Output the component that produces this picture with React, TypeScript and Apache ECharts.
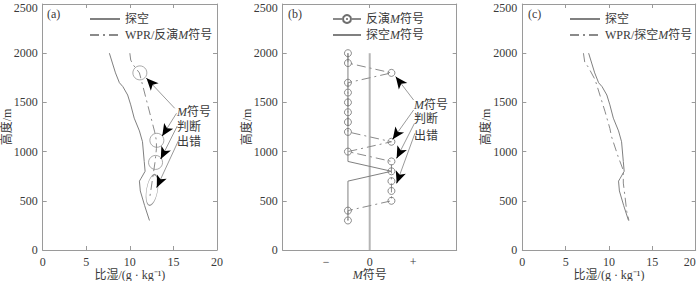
import React, { useEffect, useRef } from 'react';
import * as echarts from 'echarts';

// Panel (a)/(c): sounding specific humidity profile
const soundingHeights = [2000, 1900, 1800, 1700, 1660, 1575, 1475, 1340, 1210, 1100, 900, 800, 730, 700, 600, 450, 300];
const soundingQ = [7.65, 8.0, 8.35, 8.8, 9.2, 9.75, 10.1, 10.5, 11.1, 11.45, 11.65, 11.75, 11.3, 11.1, 11.2, 11.7, 12.25];

// Panel (a): WPR / inverted M sign
const wprInvHeights = [2000, 1930, 1880, 1800, 1200, 1110, 1030, 900, 750, 600, 545];
const wprInvQ = [10.0, 10.1, 10.4, 11.1, 12.85, 13.05, 13.05, 12.9, 12.65, 12.4, 12.3];

// Panel (a): marked wrong judgements (circles and ellipse)
const markQ = [11.15, 13.1, 12.95];
const markH = [1800, 1115, 890];
const ellipseQ = [12.55];
const ellipseH = [610];

// Panel (c): WPR / sounding M sign
const wprSndHeights = [2000, 1910, 1860, 1730, 1575, 1405, 1235, 1150, 950, 810, 680, 540, 390, 300];
const wprSndQ = [7.05, 7.2, 7.6, 8.4, 8.95, 9.55, 10.1, 10.3, 11.05, 11.65, 11.65, 11.85, 12.05, 12.3];

// Panel (b): M sign
const mHeights = [2000, 1900, 1800, 1700, 1600, 1500, 1400, 1300, 1200, 1100, 1000, 900, 800, 700, 600, 500, 400, 300];
const invertedM = [-0.5, -0.5, 0.5, -0.5, -0.5, -0.5, -0.5, -0.5, -0.5, 0.5, -0.5, 0.5, 0.5, 0.5, 0.5, 0.5, -0.5, -0.5];
const soundingMHeights = [2000, 900, 800, 700, 300];
const soundingMValues = [-0.5, -0.5, 0.5, -0.5, -0.5];
const zeroLineHeights = [2000, 0];
const mTickValues = [-1, 0, 1];
const mTickLabels = ['−', '0', '+'];

// Arrows (start -> tip), data coordinates
const arrowsAStart = [[15.15, 1440], [15.35, 1389], [15.44, 1260], [15.61, 1118]];
const arrowsATip = [[11.91, 1745], [13.72, 1159], [13.55, 925], [13.09, 635]];
const arrowsBStart = [[1.01, 1524], [1.01, 1423], [1.03, 1288], [1.04, 1186]];
const arrowsBTip = [[0.6, 1761], [0.53, 1125], [0.62, 932], [0.62, 678]];

const annotationLines = ['{i|M}符号', '判断', '出错'];

const FONT = "'Liberation Serif', 'Noto Sans CJK SC', serif";
const TEXT = '#3a3a3a';
const LINE = '#808080';
const FRAME = '#9a9a9a';
const DASHDOT = [9, 4, 2, 4];

const pairs = (xs: number[], ys: number[]) => xs.map((x, i) => [x, ys[i]]);

function arrowMarkLine(starts: number[][], tips: number[][]) {
  const data: any[] = [];
  starts.forEach((s, i) => {
    const t = tips[i];
    data.push([
      { coord: s, symbol: 'none', lineStyle: { color: '#808080', width: 0.8, type: 'solid' } },
      { coord: t, symbol: 'none' },
    ]);
  });
  starts.forEach((s, i) => {
    const t = tips[i];
    const k = 0.1;
    const mid = [t[0] + (s[0] - t[0]) * k, t[1] + (s[1] - t[1]) * k];
    data.push([
      { coord: mid, symbol: 'none', lineStyle: { color: '#000', width: 0.8, type: 'solid' } },
      { coord: t, symbol: 'arrow', symbolSize: [8, 12] },
    ]);
  });
  return {
    silent: true,
    animation: false,
    label: { show: false },
    emphasis: { disabled: true },
    symbol: ['none', 'arrow'],
    data,
  };
}

const richStyle = { i: { fontStyle: 'italic', fontFamily: FONT, fontSize: 12, color: TEXT } };

function makeAxes(gridIndex: number, isM: boolean, alignLastRight = false) {
  const xBase: any = {
    type: 'value',
    gridIndex,
    min: isM ? -2 : 0,
    max: isM ? 2 : 20,
    interval: isM ? 1 : 5,
    axisLine: { show: true, onZero: false, lineStyle: { color: FRAME, width: 1 } },
    splitLine: { show: false },
    axisTick: { show: true, inside: true, length: 4, lineStyle: { color: FRAME } },
  };
  const yBase: any = {
    type: 'value',
    gridIndex,
    min: 0,
    max: 2500,
    interval: 500,
    axisLine: { show: true, onZero: false, lineStyle: { color: FRAME, width: 1 } },
    splitLine: { show: false },
    axisTick: { show: true, inside: true, length: 4, lineStyle: { color: FRAME } },
  };
  const xBottom: any = {
    ...xBase,
    position: 'bottom',
    name: isM ? '{i|M}符号' : '比湿/(g · kg⁻¹)',
    nameLocation: 'middle',
    nameGap: 19,
    nameMoveOverlap: false,
    nameTextStyle: {
      fontFamily: FONT,
      fontSize: 12,
      lineHeight: 12,
      color: TEXT,
      rich: { i: { ...richStyle.i, lineHeight: 12 } },
    },
    axisLabel: {
      show: true,
      fontFamily: FONT,
      fontSize: 12,
      color: TEXT,
      margin: 6,
      formatter: (v: number) => String(v),
    },
  };
  if (alignLastRight) xBottom.axisLabel.alignMaxLabel = 'right';
  const xTop: any = { ...xBase, position: 'top', axisLabel: { show: false } };
  if (isM) {
    xBottom.axisLabel.customValues = mTickValues;
    xBottom.axisLabel.formatter = (v: number) => mTickLabels[mTickValues.indexOf(v)] ?? '';
    xBottom.axisTick = { ...xBase.axisTick, customValues: [0] };
    xTop.axisTick = { ...xBase.axisTick, customValues: [0] };
  }
  const yLeft: any = {
    ...yBase,
    position: 'left',
    name: '高度/m',
    nameLocation: 'middle',
    nameGap: 30,
    nameMoveOverlap: false,
    nameTextStyle: { fontFamily: FONT, fontSize: 12, lineHeight: 12, color: TEXT },
    axisLabel: {
      show: true,
      fontFamily: FONT,
      fontSize: 12,
      lineHeight: 8,
      color: TEXT,
      margin: 5,
      verticalAlignMaxLabel: 'top',
      formatter: (v: number) => String(v),
    },
  };
  const yRight: any = { ...yBase, position: 'right', axisLabel: { show: false } };
  return { x: [xBottom, xTop], y: [yLeft, yRight] };
}

const noSymbol = { opacity: 0, color: 'rgba(0,0,0,0)', borderWidth: 0 };

export default function App() {
  const ref = useRef<HTMLDivElement>(null);
  useEffect(() => {
    if (!ref.current) return;
    const chart = echarts.init(ref.current, undefined, { renderer: 'svg' });
    const axA = makeAxes(0, false);
    const axB = makeAxes(1, true);
    const axC = makeAxes(2, false, true);

    const legendCommon = {
      orient: 'vertical',
      itemWidth: 30,
      itemHeight: 10,
      itemGap: 4,
      textStyle: { fontFamily: FONT, fontSize: 12, color: TEXT, rich: richStyle },
      formatter: (name: string) => name.replace('M', '{i|M}'),
      selectedMode: false,
    };

    const annText = (left: number, tops: number[]) =>
      annotationLines.map((t, i) => ({
        type: 'text',
        left,
        top: tops[i],
        silent: true,
        style: {
          text: t,
          font: `12px ${FONT}`,
          fill: TEXT,
          rich: richStyle,
        },
      }));

    const gridCommon = { top: 4, height: 246, containLabel: false, outerBoundsMode: 'none' };

    const option: any = {
      animation: false,
      backgroundColor: '#fff',
      grid: [
        { ...gridCommon, left: 42.7, width: 174.3 },
        { ...gridCommon, left: 282.7, width: 174 },
        { ...gridCommon, left: 522.3, width: 173.4 },
      ],
      xAxis: [...axA.x, ...axB.x, ...axC.x],
      yAxis: [...axA.y, ...axB.y, ...axC.y],
      legend: [
        {
          ...legendCommon,
          left: 84,
          top: 8,
          data: [
            { name: '探空', itemStyle: noSymbol },
            { name: 'WPR/反演M符号', itemStyle: noSymbol },
          ],
        },
        {
          ...legendCommon,
          left: 327,
          top: 8,
          itemWidth: 28,
          data: [
            { name: '反演M符号' },
            { name: '探空M符号', itemStyle: noSymbol },
          ],
        },
        {
          ...legendCommon,
          left: 564,
          top: 8,
          data: [
            { name: '探空', itemStyle: noSymbol },
            { name: 'WPR/探空M符号', itemStyle: noSymbol },
          ],
        },
      ],
      graphic: [
        { type: 'text', left: 47, top: 8, silent: true, style: { text: '(a)', font: `12px ${FONT}`, fill: TEXT } },
        { type: 'text', left: 288, top: 8, silent: true, style: { text: '(b)', font: `12px ${FONT}`, fill: TEXT } },
        { type: 'text', left: 528, top: 8, silent: true, style: { text: '(c)', font: `12px ${FONT}`, fill: TEXT } },
        ...annText(177, [106, 121, 136]),
        ...annText(414, [99, 113, 130]),
      ],
      series: [
        {
          name: '探空',
          type: 'line',
          xAxisIndex: 0,
          yAxisIndex: 0,
          data: pairs(soundingQ, soundingHeights),
          symbol: 'none',
          lineStyle: { color: LINE, width: 1, type: 'solid' },
          itemStyle: { color: LINE },
        },
        {
          name: 'WPR/反演M符号',
          type: 'line',
          xAxisIndex: 0,
          yAxisIndex: 0,
          data: pairs(wprInvQ, wprInvHeights),
          symbol: 'none',
          lineStyle: { color: '#8a8a8a', width: 1, type: DASHDOT },
          itemStyle: { color: '#8a8a8a' },
        },
        {
          name: 'marks',
          type: 'scatter',
          xAxisIndex: 0,
          yAxisIndex: 0,
          data: pairs(markQ, markH),
          symbol: 'circle',
          symbolSize: 14,
          itemStyle: { color: 'rgba(0,0,0,0)', borderColor: '#777', borderWidth: 0.8 },
          silent: true,
          markLine: arrowMarkLine(arrowsAStart, arrowsATip),
        },
        {
          name: 'ellipse',
          type: 'scatter',
          xAxisIndex: 0,
          yAxisIndex: 0,
          data: pairs(ellipseQ, ellipseH),
          symbol: 'circle',
          symbolSize: [11, 31],
          symbolRotate: -10,
          itemStyle: { color: 'rgba(0,0,0,0)', borderColor: '#777', borderWidth: 0.8 },
          silent: true,
        },
        {
          name: 'zero',
          type: 'line',
          xAxisIndex: 2,
          yAxisIndex: 2,
          data: zeroLineHeights.map((h) => [0, h]),
          symbol: 'none',
          lineStyle: { color: '#b5b5b5', width: 2 },
          silent: true,
        },
        {
          name: '探空M符号',
          type: 'line',
          xAxisIndex: 2,
          yAxisIndex: 2,
          data: pairs(soundingMValues, soundingMHeights),
          symbol: 'none',
          lineStyle: { color: LINE, width: 1, type: 'solid' },
          itemStyle: { color: LINE },
          z: 3,
        },
        {
          name: '反演M符号',
          type: 'line',
          xAxisIndex: 2,
          yAxisIndex: 2,
          data: pairs(invertedM, mHeights),
          symbol: 'circle',
          symbolSize: 7,
          lineStyle: { color: '#8a8a8a', width: 1, type: DASHDOT },
          itemStyle: { color: 'rgba(255,255,255,0)', borderColor: '#6f6f6f', borderWidth: 0.8 },
          z: 4,
          markLine: arrowMarkLine(arrowsBStart, arrowsBTip),
        },
        {
          name: '探空',
          type: 'line',
          xAxisIndex: 4,
          yAxisIndex: 4,
          data: pairs(soundingQ, soundingHeights),
          symbol: 'none',
          lineStyle: { color: LINE, width: 1, type: 'solid' },
          itemStyle: { color: LINE },
        },
        {
          name: 'WPR/探空M符号',
          type: 'line',
          xAxisIndex: 4,
          yAxisIndex: 4,
          data: pairs(wprSndQ, wprSndHeights),
          symbol: 'none',
          lineStyle: { color: '#8a8a8a', width: 1, type: DASHDOT },
          itemStyle: { color: '#8a8a8a' },
        },
      ],
    };
    chart.setOption(option);
    return () => chart.dispose();
  }, []);
  return <div ref={ref} style={{ position: 'fixed', left: 0, top: 0, width: 700, height: 281 }} />;
}
